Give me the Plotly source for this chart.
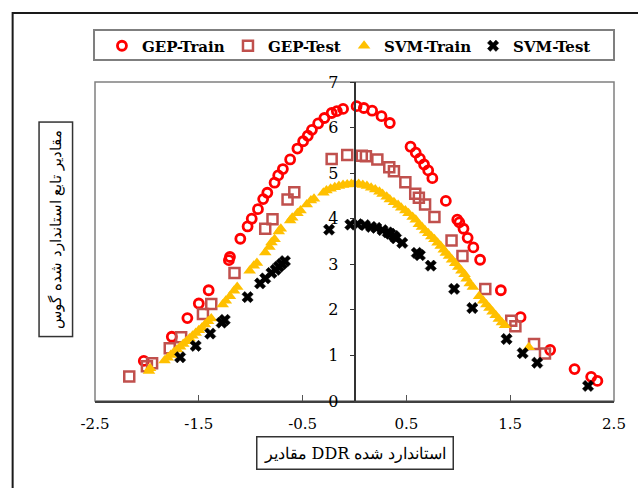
import plotly.graph_objects as go

# ---- data: standardized DDR (x) vs standardized Gaussian function (y) ----
gep_train_x = [-2.03, -1.76, -1.61, -1.50, -1.405, -1.21, -1.20, -1.10, -1.03, -0.99, -0.93, -0.88,
               -0.84, -0.77, -0.735, -0.69, -0.62, -0.55, -0.495, -0.45, -0.41, -0.35, -0.29, -0.22,
               -0.17, -0.11, 0.02, 0.09, 0.17, 0.26, 0.34,
               0.54, 0.59, 0.63, 0.67, 0.71, 0.75, 0.88, 0.99, 1.01, 1.05, 1.09, 1.145, 1.21,
               1.41, 1.60, 1.885, 2.12, 2.28, 2.34]
gep_train_y = [0.88, 1.41, 1.82, 2.14, 2.43, 3.09, 3.16, 3.56, 3.83, 4.00, 4.21, 4.43,
               4.57, 4.79, 4.95, 5.09, 5.30, 5.54, 5.70, 5.82, 5.95, 6.09, 6.21, 6.32,
               6.36, 6.41, 6.47, 6.43, 6.37, 6.25, 6.10,
               5.58, 5.45, 5.32, 5.19, 5.06, 4.89, 4.39, 3.98, 3.92, 3.78, 3.58, 3.37, 3.10,
               2.43, 1.84, 1.12, 0.70, 0.53, 0.44]

gep_test_x = [-2.17, -2.00, -1.95, -1.78, -1.67, -1.46, -1.38, -1.156, -0.86, -0.79, -0.645, -0.58,
              -0.22, -0.07, 0.07, 0.11, 0.22, 0.335, 0.38, 0.49, 0.585, 0.62, 0.68, 0.77,
              0.935, 1.04, 1.26, 1.51, 1.55, 1.73, 1.835]
gep_test_y = [0.54, 0.76, 0.83, 1.16, 1.40, 1.91, 2.13, 2.81, 3.78, 3.99, 4.42, 4.58,
              5.31, 5.40, 5.38, 5.37, 5.30, 5.13, 5.04, 4.80, 4.55, 4.46, 4.31, 4.04,
              3.52, 3.18, 2.46, 1.76, 1.64, 1.25, 1.04]

svm_train_x = [-1.98, -1.97, -1.83, -1.80, -1.77, -1.74, -1.71, -1.68, -1.65, -1.62, -1.59, -1.56,
               -1.53, -1.50, -1.47, -1.44, -1.41, -1.38, -1.27, -1.24, -1.20, -1.16, -1.13,
               -1.01, -0.97, -0.94, -0.86, -0.82, -0.80, -0.77, -0.73, -0.71, -0.62, -0.60,
               -0.55, -0.52, -0.46, -0.42, -0.39, -0.30, -0.27, -0.23, -0.19, -0.15, -0.11,
               -0.07, -0.03, 0.00, 0.04, 0.08, 0.12, 0.16, 0.20, 0.24, 0.27, 0.31, 0.34, 0.38,
               0.42, 0.45, 0.49, 0.52, 0.56, 0.59, 0.62, 0.65, 0.68, 0.71, 0.74, 0.77, 0.80,
               0.83, 0.86, 0.88, 0.91, 0.94, 0.97, 1.00, 1.03, 1.06, 1.08, 1.11, 1.14, 1.20,
               1.24, 1.27, 1.30, 1.33, 1.36, 1.39, 1.42, 1.45, 1.68]
svm_train_y = [0.66, 0.72, 0.89, 0.95, 1.01, 1.07, 1.13, 1.19, 1.25, 1.31, 1.37, 1.43,
               1.49, 1.55, 1.61, 1.68, 1.75, 1.81, 2.12, 2.20, 2.30, 2.42, 2.50,
               2.86, 2.97, 3.03, 3.26, 3.38, 3.48, 3.55, 3.72, 3.78, 3.96, 4.02,
               4.12, 4.18, 4.31, 4.40, 4.44, 4.57, 4.62, 4.66, 4.69, 4.72, 4.74,
               4.75, 4.76, 4.76, 4.76, 4.74, 4.72, 4.68, 4.64, 4.59, 4.54, 4.48, 4.42, 4.36,
               4.30, 4.24, 4.18, 4.12, 4.04, 3.98, 3.88, 3.82, 3.74, 3.68, 3.61, 3.55, 3.47,
               3.40, 3.32, 3.25, 3.18, 3.10, 3.02, 2.94, 2.86, 2.78, 2.68, 2.58, 2.50, 2.30,
               2.20, 2.12, 2.04, 1.96, 1.88, 1.80, 1.72, 1.66, 1.18]

svm_test_x = [-1.68, -1.53, -1.39, -1.28, -1.25, -1.03, -0.91, -0.86, -0.80, -0.76, -0.73, -0.70,
              -0.67, -0.245, -0.04, 0.03, 0.10, 0.16, 0.21, 0.27, 0.32, 0.345, 0.38, 0.40, 0.46,
              0.60, 0.63, 0.735, 0.96, 1.135, 1.465, 1.62, 1.76, 2.25]
svm_test_y = [0.96, 1.21, 1.48, 1.72, 1.78, 2.28, 2.58, 2.69, 2.81, 2.88, 2.95, 3.01,
              3.07, 3.76, 3.87, 3.88, 3.86, 3.82, 3.80, 3.75, 3.70, 3.67, 3.62, 3.57, 3.47,
              3.25, 3.20, 2.97, 2.46, 2.04, 1.36, 1.05, 0.84, 0.33]

x_ticks = [-2.5, -1.5, -0.5, 0.5, 1.5, 2.5]
y_ticks = [0, 1, 2, 3, 4, 5, 6, 7]

x_title = "مقادیر DDR استاندارد شده"
y_title = "مقادیر تابع استاندارد شده گوس"

SERIF = "DejaVu Serif"

# ---- figure geometry (pixels) ----
W, H = 638, 488
L, R, T, B = 95, 20, 82, 87
PW, PH = W - L - R, H - T - B


def px_to_paper_x(px):
    return (px - L) / PW


def py_to_paper_y(py):
    return (H - B - py) / PH


fig = go.Figure()

fig.add_trace(go.Scatter(
    x=gep_train_x, y=gep_train_y, mode="markers", name="GEP-Train", legend="legend",
    marker=dict(symbol="circle-open", size=9, color="#FF0000", line=dict(width=2.8, color="#FF0000")),
))
fig.add_trace(go.Scatter(
    x=gep_test_x, y=gep_test_y, mode="markers", name="GEP-Test", legend="legend2",
    marker=dict(symbol="square-open", size=10, color="#C0504D", line=dict(width=2.5, color="#C0504D")),
))
fig.add_trace(go.Scatter(
    x=svm_train_x, y=svm_train_y, mode="markers", name="SVM-Train", legend="legend3",
    marker=dict(symbol="triangle-up", size=11, color="#FFC000", line=dict(width=0)),
))
fig.add_trace(go.Scatter(
    x=svm_test_x, y=svm_test_y, mode="markers", name="SVM-Test", legend="legend4",
    marker=dict(symbol="x", size=10, color="#000000", line=dict(width=0.5, color="#000000")),
))

legend_font = dict(family=SERIF, size=15, color="#000000", weight="bold")
legend_text_starts = [139, 266, 383, 513]  # left edge of each entry's label, px
legend_cy = 46


def legend_cfg(tx):
    return dict(
        x=px_to_paper_x(tx - 37), y=py_to_paper_y(legend_cy),
        xanchor="left", yanchor="middle", orientation="h",
        bgcolor="rgba(0,0,0,0)", borderwidth=0, font=legend_font,
        itemclick=False, itemdoubleclick=False,
    )


shapes = [
    # outer frame
    dict(type="rect", xref="paper", yref="paper",
         x0=px_to_paper_x(12), x1=px_to_paper_x(660), y0=py_to_paper_y(520), y1=py_to_paper_y(13),
         line=dict(color="#1a1a1a", width=2), fillcolor="rgba(0,0,0,0)", layer="below"),
    # legend box
    dict(type="rect", xref="paper", yref="paper",
         x0=px_to_paper_x(94), x1=px_to_paper_x(618), y0=py_to_paper_y(60), y1=py_to_paper_y(30),
         line=dict(color="#7f7f7f", width=2), fillcolor="rgba(0,0,0,0)", layer="below"),
    # plot area frame
    dict(type="rect", xref="paper", yref="paper", x0=0, x1=1, y0=0, y1=1,
         line=dict(color="#808080", width=1.5), fillcolor="rgba(0,0,0,0)", layer="below"),
]

annotations = [
    dict(text=x_title, xref="paper", yref="paper",
         x=px_to_paper_x(357), y=py_to_paper_y(453), xanchor="center", yanchor="middle",
         showarrow=False, font=dict(family=SERIF, size=16, color="#000000"),
         bordercolor="#333333", borderwidth=1.5, borderpad=6, bgcolor="#ffffff"),
    dict(text=y_title, xref="paper", yref="paper", textangle=-90,
         x=px_to_paper_x(55), y=py_to_paper_y(229), xanchor="center", yanchor="middle",
         showarrow=False, font=dict(family=SERIF, size=15, color="#000000"),
         bordercolor="#333333", borderwidth=1.5, borderpad=7, bgcolor="#ffffff"),
]

fig.update_layout(
    width=W, height=H,
    margin=dict(l=L, r=R, t=T, b=B, pad=0),
    paper_bgcolor="#ffffff", plot_bgcolor="#ffffff",
    showlegend=True,
    legend=legend_cfg(legend_text_starts[0]),
    legend2=legend_cfg(legend_text_starts[1]),
    legend3=legend_cfg(legend_text_starts[2]),
    legend4=legend_cfg(legend_text_starts[3]),
    shapes=shapes,
    annotations=annotations,
    xaxis=dict(
        range=[-2.5, 2.5], tickvals=x_ticks, ticktext=[f"{v:g}" for v in x_ticks],
        ticks="inside", ticklen=6, tickcolor="#555555", tickwidth=1.2,
        showgrid=False, zeroline=False, showline=True, linecolor="#404040", linewidth=1.5,
        tickfont=dict(family=SERIF, size=15, color="#000000"),
        ticklabelstandoff=8,
    ),
    yaxis=dict(
        range=[0, 7], tickvals=y_ticks,
        anchor="free", position=0.5,
        ticks="outside", ticklen=4, tickcolor="#333333", tickwidth=1.2,
        showgrid=False, zeroline=False, showline=True, linecolor="#333333", linewidth=1.5,
        tickfont=dict(family=SERIF, size=16, color="#000000"),
        ticklabelstandoff=8,
    ),
)

fig.write_html("out.html")
